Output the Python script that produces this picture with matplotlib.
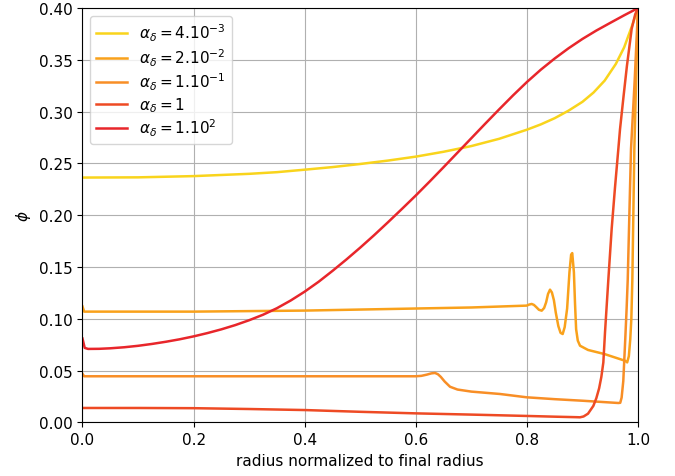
import matplotlib.pyplot as plt

plt.rcParams['font.size'] = 11

# alpha_delta = 4e-3
x_a = [0.0, 0.1, 0.2, 0.3, 0.35, 0.4, 0.45, 0.5, 0.55, 0.6, 0.65, 0.7, 0.75, 0.8,
       0.825, 0.85, 0.875, 0.9, 0.92, 0.94, 0.96, 0.975, 0.99, 1.0]
y_a = [0.2364, 0.2366, 0.2378, 0.2400, 0.2416, 0.2440, 0.2465, 0.2495, 0.2528, 0.2566,
       0.2613, 0.2668, 0.2738, 0.2826, 0.2877, 0.2937, 0.3010, 0.3095, 0.3185, 0.3300,
       0.3460, 0.3620, 0.3840, 0.4000]

# alpha_delta = 2e-2
x_b = [0.0, 0.003, 0.01, 0.1, 0.2, 0.3, 0.4, 0.5, 0.6, 0.7, 0.7996, 0.804, 0.8086,
       0.8126, 0.8166, 0.8216, 0.8266, 0.831, 0.8346, 0.838, 0.8416, 0.845, 0.8486,
       0.852, 0.8566, 0.8606, 0.8644, 0.868, 0.8724, 0.8766, 0.8796, 0.8816, 0.8846,
       0.8866, 0.8886, 0.8916, 0.8956, 0.91, 0.94, 0.977, 0.9805, 0.9835, 0.986, 0.988,
       0.9898, 0.9934, 0.997, 1.0]
y_b = [0.112, 0.107, 0.107, 0.107, 0.107, 0.1075, 0.108, 0.109, 0.110, 0.111, 0.1128,
       0.1138, 0.1144, 0.1135, 0.1115, 0.1088, 0.1079, 0.1105, 0.1160, 0.1240, 0.1282,
       0.1255, 0.1180, 0.1060, 0.0930, 0.0865, 0.0854, 0.0920, 0.1100, 0.1450, 0.1620,
       0.1635, 0.1450, 0.1150, 0.0900, 0.0790, 0.0741, 0.0700, 0.0660, 0.0595, 0.0580,
       0.0640, 0.0800, 0.1000, 0.1380, 0.2640, 0.3400, 0.4000]

# alpha_delta = 1e-1
x_c = [0.0, 0.003, 0.01, 0.2, 0.4, 0.6, 0.61, 0.62, 0.628, 0.6346, 0.64, 0.645, 0.652,
       0.6616, 0.675, 0.7, 0.7516, 0.7996, 0.85, 0.9, 0.9646, 0.968, 0.9705, 0.9735,
       0.977, 0.9795, 0.9815, 0.9874, 0.994, 1.0]
y_c = [0.047, 0.0446, 0.0446, 0.0446, 0.0446, 0.0446, 0.0450, 0.0462, 0.0474, 0.0478,
       0.0465, 0.0440, 0.0395, 0.0345, 0.0318, 0.0298, 0.0275, 0.0243, 0.0225, 0.0210,
       0.0188, 0.0190, 0.0240, 0.0400, 0.0800, 0.1100, 0.1380, 0.2640, 0.3300, 0.4000]

# alpha_delta = 1
x_d = [0.0, 0.1, 0.2, 0.3, 0.4, 0.5, 0.6, 0.7, 0.8, 0.85, 0.89, 0.8956, 0.902, 0.91,
       0.9196, 0.925, 0.93, 0.934, 0.9376, 0.9406, 0.9466, 0.9526, 0.9586, 0.9646,
       0.9676, 0.974, 0.98, 0.9886, 0.995, 1.0]
y_d = [0.0140, 0.0140, 0.0138, 0.0130, 0.0120, 0.0103, 0.0088, 0.0076, 0.0063, 0.0056,
       0.0051, 0.0050, 0.0058, 0.0085, 0.0160, 0.0235, 0.0330, 0.0440, 0.0580, 0.0870,
       0.1380, 0.1870, 0.2270, 0.2640, 0.2830, 0.3150, 0.3440, 0.3800, 0.3940, 0.4000]

# alpha_delta = 1e2
x_e = [0.0, 0.004, 0.01, 0.03, 0.05, 0.075, 0.1, 0.125, 0.15, 0.175, 0.2, 0.225, 0.25,
       0.275, 0.3, 0.325, 0.35, 0.375, 0.4, 0.425, 0.45, 0.475, 0.5, 0.525, 0.55, 0.575,
       0.6, 0.625, 0.65, 0.675, 0.7, 0.725, 0.75, 0.775, 0.8, 0.825, 0.85, 0.875, 0.9,
       0.925, 0.95, 0.975, 1.0]
y_e = [0.081, 0.072, 0.071, 0.0711, 0.0716, 0.0726, 0.0740, 0.0758, 0.0779, 0.0803,
       0.0831, 0.0863, 0.0899, 0.0940, 0.0987, 0.1040, 0.1103, 0.1178, 0.1263, 0.1358,
       0.1463, 0.1573, 0.1688, 0.1808, 0.1933, 0.2061, 0.2191, 0.2326, 0.2464, 0.2604,
       0.2744, 0.2884, 0.3022, 0.3157, 0.3286, 0.3405, 0.3513, 0.3612, 0.3702, 0.3783,
       0.3857, 0.3930, 0.4000]

labels = [r'$\alpha_\delta = 4.10^{-3}$', r'$\alpha_\delta = 2.10^{-2}$',
          r'$\alpha_\delta = 1.10^{-1}$', r'$\alpha_\delta = 1$', r'$\alpha_\delta = 1.10^{2}$']
colors = ['#F9D41C', '#F9A11B', '#F88E26', '#EE4A24', '#E8262B']

fig, ax = plt.subplots(figsize=(6.75, 4.77), dpi=100)
fig.subplots_adjust(left=0.1222, right=0.9452, top=0.981, bottom=0.1122)

series = [(x_a, y_a), (x_b, y_b), (x_c, y_c), (x_d, y_d), (x_e, y_e)]
for (xs, ys), lab, col in zip(series, labels, colors):
    ax.plot(xs, ys, color=col, lw=1.8, label=lab)

ax.set_xlim(0, 1.0)
ax.set_ylim(0, 0.40)
ax.set_yticks([0.0, 0.05, 0.10, 0.15, 0.20, 0.25, 0.30, 0.35, 0.40])
ax.set_yticklabels(['0.00', '0.05', '0.10', '0.15', '0.20', '0.25', '0.30', '0.35', '0.40'])
ax.grid(True)
ax.set_xlabel('radius normalized to final radius')
ax.set_ylabel(r'$\phi$')
ax.legend(loc='upper left', labelspacing=0.2)

plt.savefig('out.png', dpi=100)
